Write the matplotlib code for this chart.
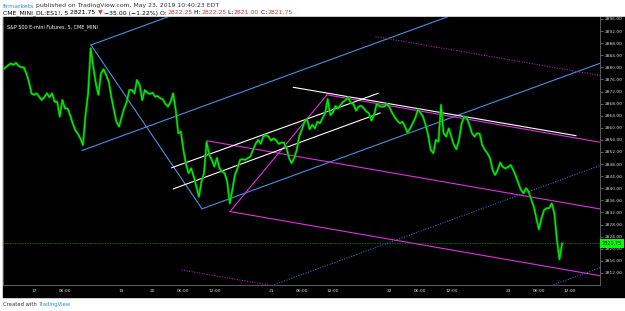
import numpy as np
import matplotlib
matplotlib.use("Agg")
import matplotlib.pyplot as plt
from matplotlib.patches import Rectangle

# 30-minute closes, ES1! 5m chart, May 16 18:00 -> May 23 10:30 (trading hours only)
close = [
    2879.4, 2880.0, 2880.7, 2881.3, 2880.8, 2881.5, 2880.5, 2880.0, 2880.0, 2878.0,
    2875.3, 2871.4, 2870.9, 2871.4, 2870.3, 2869.2, 2870.1, 2871.4, 2870.1, 2871.4,
    2868.6, 2868.6, 2863.7, 2869.2, 2866.4, 2866.4, 2864.2, 2861.5, 2859.3, 2858.0,
    2856.5, 2854.3, 2864.2, 2871.4, 2886.3, 2880.2, 2874.7, 2870.9, 2878.0, 2879.4,
    2877.5, 2875.3, 2870.3, 2866.0, 2862.0, 2860.4,
    2863.5, 2866.4, 2868.6, 2872.5, 2872.5, 2871.4, 2875.8, 2874.2, 2869.2, 2872.5,
    2871.6, 2871.2, 2871.6, 2870.3, 2870.5, 2869.8, 2869.4, 2867.9, 2867.0, 2868.6,
    2871.4, 2866.0, 2858.2, 2858.7, 2852.7, 2848.0, 2845.0, 2846.6, 2843.8, 2840.6,
    2837.2, 2842.2, 2845.0, 2855.4, 2851.0, 2849.4, 2847.2, 2850.0, 2846.6, 2845.5,
    2845.0, 2842.2, 2835.0, 2839.5, 2844.4, 2846.6,
    2849.4, 2849.6, 2849.4, 2850.0, 2850.5, 2852.7, 2854.7, 2856.0, 2854.7, 2857.1,
    2857.6, 2857.1, 2855.8, 2856.5, 2855.8, 2854.7, 2855.1, 2855.1, 2853.2, 2850.0,
    2848.3, 2850.0, 2852.7, 2857.3, 2859.5, 2862.0, 2862.8, 2859.5, 2861.0, 2859.8,
    2862.0, 2861.5, 2863.2, 2864.8, 2869.5, 2864.2, 2865.0, 2867.2, 2866.4, 2867.6,
    2868.6, 2869.2, 2870.1, 2868.1, 2867.9, 2865.7, 2867.0,
    2867.3, 2866.4, 2865.4, 2864.8, 2862.4, 2864.2, 2867.9, 2867.2, 2867.0, 2867.0,
    2867.9, 2866.8, 2865.0, 2863.5, 2862.4, 2861.5, 2862.0, 2860.4, 2858.4, 2859.8,
    2861.5, 2863.2, 2866.0, 2865.0, 2863.7, 2861.0, 2857.6, 2852.7, 2851.6, 2856.0,
    2855.4, 2867.6, 2858.2, 2857.1, 2859.8, 2857.1, 2854.3, 2852.9, 2856.0, 2861.5,
    2863.7, 2863.2, 2861.0, 2858.2, 2857.1, 2858.2, 2858.0,
    2854.3, 2852.7, 2851.6, 2850.0, 2846.1, 2844.4, 2846.1, 2848.5, 2847.0, 2846.6,
    2847.0, 2847.7, 2846.1, 2844.1, 2841.7, 2839.5, 2838.4, 2840.0, 2838.9, 2836.4,
    2833.9, 2830.1, 2826.4, 2830.1, 2832.8, 2833.4, 2833.4, 2835.0, 2831.7, 2823.0,
    2816.5, 2821.75,
]
last_price = 2821.75

# time axis in trading hours since May 17 00:00 (gaps removed)
start_hour = -6.0
step_hour = 0.5
tick_hours = [0, 6, 17, 23, 29, 35, 46, 52, 58, 69, 75, 81, 92, 98, 104]
tick_labels = ["17", "06:00", "19", "20", "06:00", "12:00", "21", "06:00", "12:00",
               "22", "06:00", "12:00", "23", "06:00", "12:00"]
price_ticks = list(range(2812, 2897, 4))

# drawings: (hour, price) anchors
blue_fork = [(9.32, 2852.5), (11.06, 2887.4), (32.61, 2833.2)]
magenta_fork = [(33.58, 2855.7), (38.04, 2832.3), (56.87, 2870.9)]
white_channel = [[(26.73, 2846.8), (66.77, 2871.4)],
                 [(27.04, 2839.8), (67.16, 2864.9)]]
white_trend = [(50.33, 2873.4), (105.2, 2857.4)]

XMIN, XMAX = -6.02, 109.86
YMIN, YMAX = 2808.0, 2896.66

fig = plt.figure(figsize=(6.25, 3.11), dpi=100, facecolor="white")
fig.patches.append(Rectangle((3 / 625, 14 / 311), 622 / 625, 280 / 311,
                             transform=fig.transFigure, color="black", zorder=-5))
ax = fig.add_axes([3 / 625, 26 / 311, 597 / 625, 268 / 311])
ax.set_zorder(2)
ax.set_facecolor("black")

dotted_color = {"#4a8fe0": "#2f63b8", "#e030e0": "#a020b0"}


def fork(ax, pts, color, solid_levels, dotted_levels):
    p1, p2, p3 = [np.array(p) for p in pts]
    mid = (p2 + p3) / 2
    slope = (mid[1] - p1[1]) / (mid[0] - p1[0])
    ax.plot([p1[0], XMAX], [p1[1], p1[1] + slope * (XMAX - p1[0])], color=color, lw=0.8)
    ax.plot([p2[0], p3[0]], [p2[1], p3[1]], color=color, lw=0.8)
    for k in solid_levels + dotted_levels:
        a = mid + k * (p3 - mid)
        solid = k in solid_levels
        ax.plot([a[0], XMAX], [a[1], a[1] + slope * (XMAX - a[0])],
                color=color if solid else dotted_color[color],
                lw=0.8, ls="-" if solid else (0, (1, 1.3)))


fork(ax, blue_fork, "#4a8fe0", [1, -1], [2, 3, -2, -3])
fork(ax, magenta_fork, "#e030e0", [1, -1], [2, 3, -2, -3])

for seg in white_channel:
    ax.plot([seg[0][0], seg[1][0]], [seg[0][1], seg[1][1]], color="white", lw=0.8)
ax.plot([white_trend[0][0], white_trend[1][0]], [white_trend[0][1], white_trend[1][1]],
        color="white", lw=0.8)

hours = start_hour + step_hour * np.arange(len(close))
ax.plot(hours, close, color="#0c8a0c", lw=1.8, zorder=5, alpha=0.8)
ax.plot(hours, close, color="#00f000", lw=0.9, zorder=6)

ax.axhline(last_price, color="#1f8a1f", lw=0.6, ls=(0, (1, 1)), zorder=4)

ax.set_xlim(XMIN, XMAX)
ax.set_ylim(YMIN, YMAX)
ax.set_xticks(tick_hours)
ax.set_xticklabels(tick_labels)
ax.set_yticks(price_ticks)
ax.set_yticklabels([f"{p:.2f}" for p in price_ticks])
ax.yaxis.tick_right()
ax.tick_params(axis="y", length=2, width=0.5, color="#888888", pad=1.2,
               labelsize=3.2, labelcolor="#d8d8d8")
ax.tick_params(axis="x", length=0, pad=3, labelsize=3.2, labelcolor="#d8d8d8")
ax.spines["top"].set_visible(False)
for side in ["bottom", "right", "left"]:
    ax.spines[side].set_color("#6a6a6a")
    ax.spines[side].set_linewidth(0.6)

ax.text(1.003, last_price, f"{last_price:.2f}", transform=ax.get_yaxis_transform(),
        ha="left", va="center", fontsize=3.5, color="black", zorder=10, clip_on=False,
        bbox=dict(boxstyle="square,pad=0.35", fc="#00ff00", ec="none"))

ax.text(0.006, 0.972, "S&P 500 E-mini Futures, 5, CME_MINI", transform=ax.transAxes,
        ha="left", va="top", fontsize=3.5, color="white")

renderer = fig.canvas.get_renderer()


def chain(x, y, parts, size):
    for s, c in parts:
        t = fig.text(x, y, s, color=c, fontsize=size, va="baseline", ha="left")
        bb = t.get_window_extent(renderer)
        x = bb.x1 / fig.bbox.width


dark = "#333333"
red = "#e53935"
chain(0.005, 1 - 7.5 / 311, [("firmarkets", "#2a8be0"),
                             (" published on TradingView.com, May 23, 2019 10:40:23 EDT", dark)], 4.4)
chain(0.005, 1 - 14.5 / 311, [("CME_MINI_DL:ES1!, 5 ", "black"), ("2821.75 ", "black"),
                              ("▼", red), (" −35.00 (−1.22%) O:", "black"), ("2822.25", red),
                              (" H:", "black"), ("2822.25", red), (" L:", "black"),
                              ("2821.00", red), (" C:", "black"), ("2821.75", red)], 4.4)
chain(0.005, 1 - 306 / 311, [("Created with ", dark), ("TradingView", "#2a8be0")], 3.8)

fig.savefig("out.png", dpi=100, facecolor="white")
